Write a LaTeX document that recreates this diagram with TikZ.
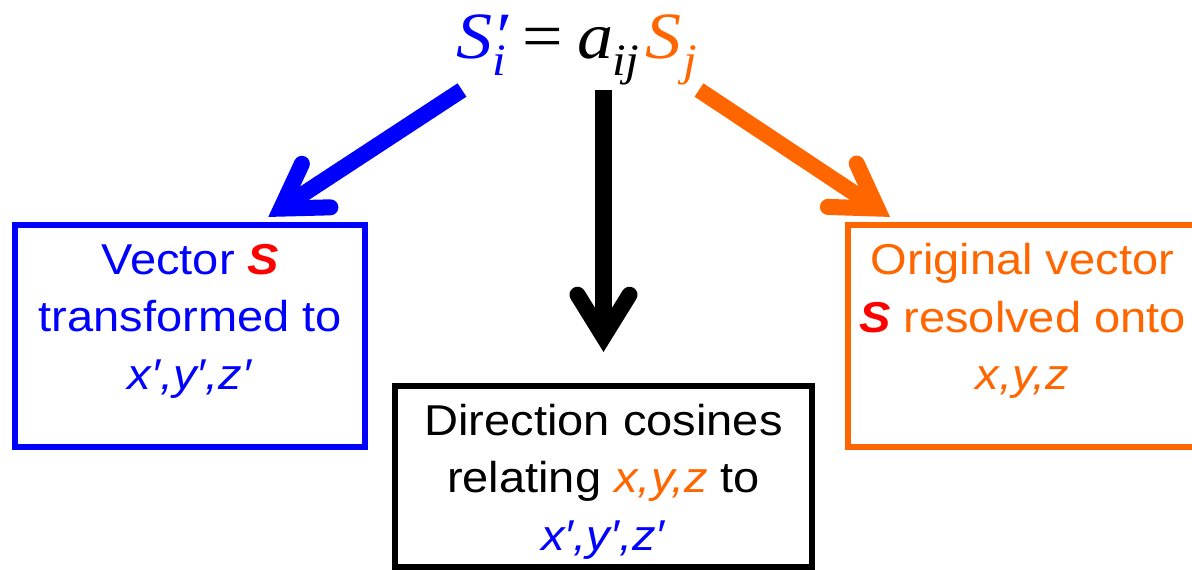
\documentclass[tikz,border=0pt]{standalone}
\usepackage{fontspec}
\setmainfont{Liberation Sans}[FakeStretch=1.09]
\newfontfamily\eqfont{Liberation Serif}[FakeStretch=1.09]
\usetikzlibrary{arrows.meta,calc}
\definecolor{eqblue}{RGB}{0,0,255}
\definecolor{eqorange}{RGB}{255,102,0}
\definecolor{eqred}{RGB}{255,0,0}
\newcommand{\vecS}{\textcolor{eqred}{\textbf{\textit{S}}}}
\newcommand{\lowsub}[1]{\raisebox{-12pt}{\fontsize{32}{34}\selectfont #1}}
\tikzset{
  boxtext/.style={font=\fontsize{30.7}{40.9}\selectfont,align=center,inner sep=0pt},
  colbox/.style={draw,line width=4.3pt,inner sep=0pt},
  bigarrow/.style={line width=11.4pt,-{Straight Barb[length=1.05cm,width=1.3cm,line cap=round]}},
}

\begin{document}
\begin{tikzpicture}[x=0.025cm,y=-0.025cm]
\clip (0,0) rectangle (1192,570);

\node[anchor=base,inner sep=0pt,font=\fontsize{47}{50}\eqfont\itshape] (eq) at (577,59)
{\textcolor{eqblue}{S\rlap{′}\lowsub{i}}\hspace{12pt}{\upshape=}\hspace{10pt}a\kern-1pt\lowsub{ij}\kern4pt\textcolor{eqorange}{S\kern2pt\lowsub{j}}};

\node[colbox,eqblue,minimum width=8.75cm,minimum height=5.55cm] (vecbox) at (190.25,336) {};
\node[colbox,eqorange,minimum width=8.725cm,minimum height=5.55cm] (origbox) at (1022.5,336) {};
\node[colbox,black,minimum width=10.43cm,minimum height=4.525cm] (cosbox) at (603.5,476.5) {};

\node[boxtext,eqblue] (vectext) at ($(vecbox.center)+(0,-15)$)
{Vector \vecS\\transformed to\\\textit{x′,y′,z′}};
\node[boxtext,eqorange] (origtext) at ($(origbox.center)+(0,-15)$)
{Original vector\\\vecS{} resolved onto\\\textit{x,y,z}};
\node[boxtext] (costext) at ($(cosbox.center)+(0,5)$)
{Direction cosines\\relating \textcolor{eqorange}{\textit{x,y,z}} to\\\textcolor{eqblue}{\textit{x′,y′,z′}}};

\draw[bigarrow,eqblue] ($(eq.base)+(-115,31)$) -- ($(vecbox.north)+(78,-5)$);
\draw[bigarrow] ($(eq.base)+(26.5,31)$) -- ($(cosbox.north)+(0,-31)$);
\draw[bigarrow,eqorange] ($(eq.base)+(122,31)$) -- ($(origbox.north)+(-132.5,-5)$);

\end{tikzpicture}
\end{document}
